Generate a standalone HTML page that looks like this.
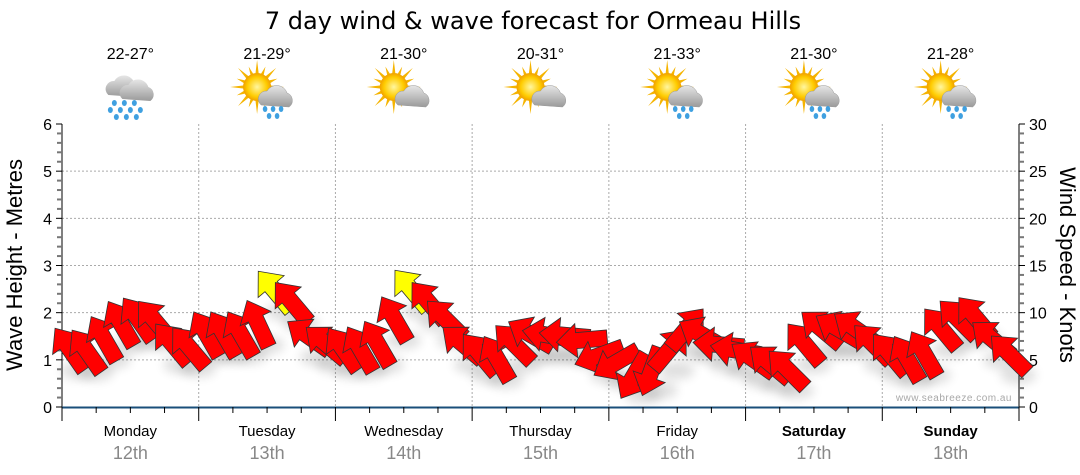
<!DOCTYPE html>
<html><head><meta charset="utf-8"><style>
html,body{margin:0;padding:0;background:#fff;width:1080px;height:475px;overflow:hidden;font-family:"Liberation Sans",sans-serif;}
svg text{font-family:"Liberation Sans",sans-serif;}
</style></head><body>
<svg id="chart" width="1080" height="475" viewBox="0 0 1080 475" xmlns="http://www.w3.org/2000/svg">
<defs>
<radialGradient id="sun" cx="50%" cy="50%" r="50%"><stop offset="0" stop-color="#fff6a0"/><stop offset="0.7" stop-color="#ffcc00"/><stop offset="1" stop-color="#f0a000"/></radialGradient>
<linearGradient id="cloud" x1="0" y1="0" x2="0" y2="1"><stop offset="0" stop-color="#e6e6e6"/><stop offset="1" stop-color="#9a9a9a"/></linearGradient>
<filter id="sh" x="-50%" y="-50%" width="200%" height="200%"><feGaussianBlur stdDeviation="5"/></filter>
</defs>
<text x="533" y="29" text-anchor="middle" font-size="24" fill="#000" style="font-family:'DejaVu Sans',sans-serif">7 day wind &amp; wave forecast for Ormeau Hills</text>
<g id="grid"></g>
<g id="icons"></g>
<g id="axes"></g>
<text x="1012" y="401" text-anchor="end" font-size="10" fill="#a8a8a8" letter-spacing="0.5">www.seabreeze.com.au</text>
<g id="marks"></g>
<text transform="translate(22,265) rotate(-90)" text-anchor="middle" font-size="22" fill="#000">Wave Height - Metres</text>
<text transform="translate(1060,265) rotate(90)" text-anchor="middle" font-size="22" fill="#000">Wind Speed - Knots</text>
</svg>
<script>
const days=["Monday","Tuesday","Wednesday","Thursday","Friday","Saturday","Sunday"];
const dates=["12th","13th","14th","15th","16th","17th","18th"];
const temps=["22-27°","21-29°","21-30°","20-31°","21-33°","21-30°","21-28°"];
const icons=["rain","sunrain","suncloud","suncloud","sunrain","sunrain","sunrain"];
const waveTicks=[0,1,2,3,4,5,6];
const windTicks=[0,5,10,15,20,25,30];
const windSpeed=[6.0,5.8,7.1,8.7,9.2,9.0,6.6,6.2,
 7.6,7.6,7.6,8.7,12.2,11.0,7.4,6.6,
 6.0,6.0,6.6,9.2,12.3,11.0,9.2,6.6,
 5.5,5.0,6.6,7.6,7.6,7.6,7.1,5.5,
 4.8,3.4,3.9,6.0,8.2,7.6,6.6,6.0,
 5.0,4.5,3.9,6.6,8.2,8.2,8.2,6.6,
 5.5,5.0,5.5,8.2,9.2,9.4,7.1,5.5];
const windDir=[-35,-35,-30,-30,-35,-40,-40,-40,
 -30,-30,-30,-25,-40,-40,-55,-50,
 -35,-30,-30,-30,-40,-40,-45,-50,
 -40,-30,-45,-60,-80,-85,-95,-110,
 -120,-150,-160,40,40,-60,-85,-80,
 -55,-50,-45,-40,-50,-60,-55,-45,
 -40,-30,-30,-40,-45,-40,-50,-45];
const X0=62,X1=1019,Y0=407,Y1=124;
const NS="http://www.w3.org/2000/svg";
const yWave=v=>Y0-(v/6)*(Y0-Y1);
const yWind=v=>Y0-(v/30)*(Y0-Y1);
const dayW=(X1-X0)/7;
const xIdx=i=>X0+(i+0.5)*(X1-X0)/windSpeed.length;
function mk(tag,attrs,parent){const e=document.createElementNS(NS,tag);for(const k in attrs)e.setAttribute(k,attrs[k]);parent.appendChild(e);return e;}
const grid=document.getElementById('grid'),axes=document.getElementById('axes'),marks=document.getElementById('marks'),ic=document.getElementById('icons');
waveTicks.forEach(v=>{if(v>0&&v<6){const l=mk('line',{x1:X0,x2:X1,y1:yWave(v),y2:yWave(v),stroke:'#aaa','stroke-dasharray':'2,2'},grid);

}
const t=mk('text',{x:X0-10,y:yWave(v)+6,'text-anchor':'end','font-size':16,fill:'#000'},axes);t.textContent=v;

});
windTicks.forEach(v=>{const t=mk('text',{x:X1+10,y:yWind(v)+6,'font-size':16,fill:'#000'},axes);t.textContent=v;

});
for(let d=1;d<7;d++){const l=mk('line',{x1:X0+d*dayW,x2:X0+d*dayW,y1:Y1,y2:Y0,stroke:'#aaa','stroke-dasharray':'2,2'},grid);

}
mk('line',{x1:X0,x2:X0,y1:Y1,y2:Y0,stroke:'#000','stroke-width':1},axes);
mk('line',{x1:X1,x2:X1,y1:Y1,y2:Y0,stroke:'#000','stroke-width':1},axes);
mk('line',{x1:X0,x2:X1,y1:Y0+0.5,y2:Y0+0.5,stroke:'#1a4f7a','stroke-width':2},axes);
for(let k=0;k<=30;k++){const y=Y0-k*(Y0-Y1)/30;const w=(k%5==0)?6:5;
mk('line',{x1:X0-w,x2:X0,y1:y,y2:y,stroke:k%5==0?'#000':'#777','stroke-width':k%5==0?1:2},axes);
mk('line',{x1:X1,x2:X1+w,y1:y,y2:y,stroke:k%5==0?'#000':'#777','stroke-width':k%5==0?1:2},axes);}
for(let k=0;k<=28;k++){const x=X0+k*dayW/4;mk('line',{x1:x,x2:x,y1:Y0,y2:Y0+(k%4==0?14:6),stroke:'#000'},axes);}
days.forEach((d,i)=>{const cx=X0+(i+0.5)*dayW;const bold=i>=5;
const t=mk('text',{x:cx,y:436,'text-anchor':'middle','font-size':15,fill:'#000','font-weight':bold?'bold':'normal'},axes);t.textContent=d;


const t2=mk('text',{x:cx,y:459,'text-anchor':'middle','font-size':18,fill:'#888'},axes);t2.textContent=dates[i];


const t3=mk('text',{x:cx,y:59,'text-anchor':'middle','font-size':16,fill:'#000'},ic);t3.textContent=temps[i];


const g=mk('g',{transform:`translate(${cx},95)`},ic);


const type=icons[i];
if(type!=='rain'){for(let a=0;a<16;a++){const r=a%2?22:27;const ang=a*Math.PI/8;mk('polygon',{points:`${-10+Math.cos(ang-0.15)*12},${-8+Math.sin(ang-0.15)*12} ${-10+Math.cos(ang)*r},${-8+Math.sin(ang)*r} ${-10+Math.cos(ang+0.15)*12},${-8+Math.sin(ang+0.15)*12}`,fill:'#f5b400'},g);}
mk('circle',{cx:-10,cy:-8,r:14,fill:'url(#sun)'},g);
mk('path',{d:'M-6,10 a8,8 0 0 1 6,-14 a11,11 0 0 1 20,2 a8,8 0 0 1 2,14 z',fill:'url(#cloud)',stroke:'#999','stroke-width':0.5},g);}
else{mk('path',{d:'M-22,0 a8,8 0 0 1 6,-14 a11,11 0 0 1 20,2 a8,8 0 0 1 2,14 z',fill:'url(#cloud)'},g);
mk('path',{d:'M-8,4 a8,8 0 0 1 6,-14 a11,11 0 0 1 20,2 a8,8 0 0 1 2,14 z',fill:'url(#cloud)'},g);
[[-16,8],[-6,8],[4,8],[-20,15],[-10,15],[0,15],[10,15],[-14,22],[-4,22],[6,22]].forEach(p=>mk('ellipse',{cx:p[0],cy:p[1],rx:2.5,ry:3,fill:'#3fa0e0'},g));}
if(type==='sunrain'){[[-2,14],[6,14],[14,14],[2,21],[10,21]].forEach(p=>mk('ellipse',{cx:p[0],cy:p[1],rx:2.3,ry:3,fill:'#3fa0e0'},g));}
});
const arrowPts="0,-27 17,-7 8,-7 8,24 -8,24 -8,-7 -17,-7";
windSpeed.forEach((v,i)=>{const x=xIdx(i),y=yWind(v);
const s=mk('ellipse',{cx:x+8,cy:y+20,rx:18,ry:9,fill:'#000',opacity:0.12,filter:'url(#sh)'},marks);

});
windSpeed.forEach((v,i)=>{const x=xIdx(i),y=yWind(v);
const p=mk('polygon',{points:arrowPts,transform:`translate(${x},${y}) rotate(${windDir[i]})`,fill:v>=12?'#ffff00':'#ff0000',stroke:'#333','stroke-width':0.8},marks);

});
</script>
</body></html>
